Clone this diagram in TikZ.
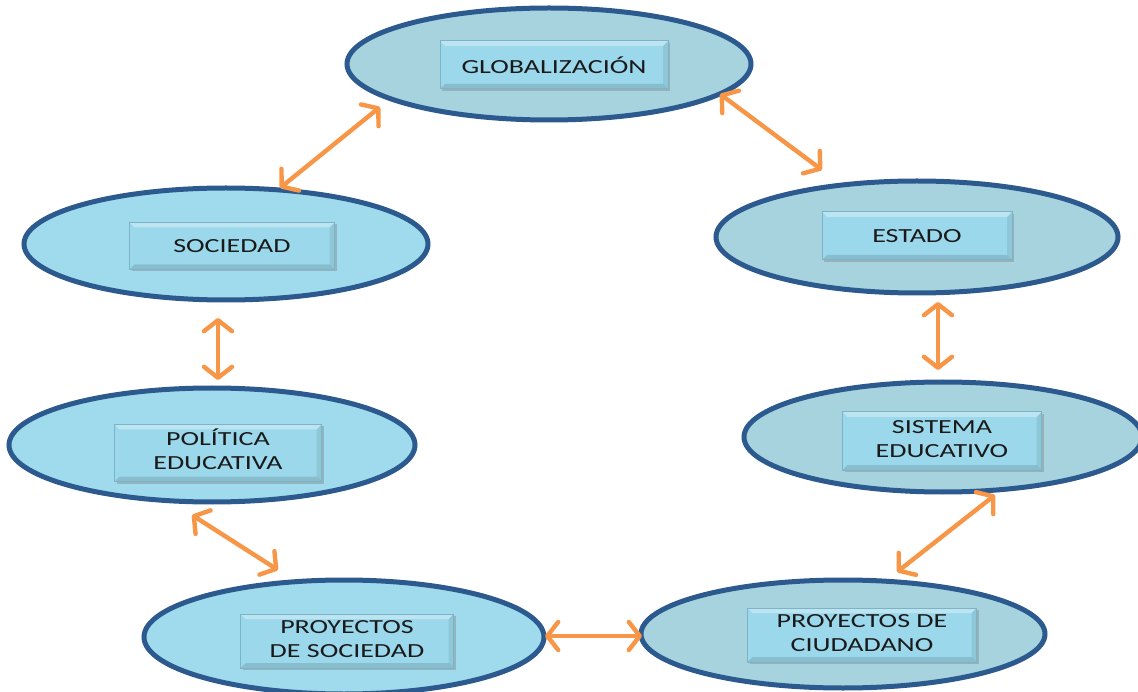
\documentclass[tikz,border=0pt]{standalone}
\usepackage{fontspec}
\setmainfont{Carlito}
\usetikzlibrary{shapes.geometric,arrows.meta,calc,shadows}
\definecolor{ringblue}{HTML}{2C5A8E}
\definecolor{paleA}{HTML}{A7D3DF}
\definecolor{paleB}{HTML}{9FDBEC}
\definecolor{boxfill}{HTML}{9BD8EB}
\definecolor{boxedge}{HTML}{7DB3C6}
\definecolor{arrorange}{HTML}{F79646}
\definecolor{inkgray}{HTML}{1A1A1A}
\tikzset{
  ring/.style={ellipse, draw=ringblue, line width=5pt, inner sep=0pt,
    minimum width=#1, fill=paleA,
    drop shadow={shadow xshift=1.5pt, shadow yshift=-2pt, opacity=.35}},
  ringbright/.style={ring=#1, fill=paleB},
  label box/.style={rectangle, fill=boxfill, draw=boxedge, line width=1pt,
    inner sep=0pt, text=inkgray,
    font=\fontsize{20}{24}\selectfont,
    drop shadow={shadow xshift=2pt, shadow yshift=-2pt, opacity=.4},
    path picture={
      \fill[white, opacity=.35]
        (path picture bounding box.north west) --
        (path picture bounding box.north east) --
        ([xshift=-5pt,yshift=-5pt]path picture bounding box.north east) --
        ([xshift=5pt,yshift=-5pt]path picture bounding box.north west) -- cycle;
      \fill[black, opacity=.12]
        (path picture bounding box.south west) --
        (path picture bounding box.south east) --
        ([xshift=-5pt,yshift=5pt]path picture bounding box.south east) --
        ([xshift=5pt,yshift=5pt]path picture bounding box.south west) -- cycle;
      \fill[black, opacity=.08]
        (path picture bounding box.north east) --
        (path picture bounding box.south east) --
        ([xshift=-5pt,yshift=5pt]path picture bounding box.south east) --
        ([xshift=-5pt,yshift=-5pt]path picture bounding box.north east) -- cycle;
    }},
  link/.style={draw=arrorange, line width=4.4pt,
    {Straight Barb[length=11pt,width=28pt,round]}-{Straight Barb[length=11pt,width=28pt,round]}}
}
\newcommand{\wide}[1]{\scalebox{1.4}[1]{#1}}
\newcommand{\twolines}[2]{\scalebox{1.4}[1]{\begin{tabular}{@{}c@{}}#1\\#2\end{tabular}}}

\begin{document}
\begin{tikzpicture}[x=1pt, y=-1pt]
\useasboundingbox (0,0) rectangle (1138,692);

% outer ellipses
\node[ring=404pt, minimum height=112pt]       (glob) at (549,64)  {};
\node[ringbright=404pt, minimum height=112pt] (soc)  at (226,244) {};
\node[ring=402pt, minimum height=112pt]       (est)  at (917,237) {};
\node[ringbright=406pt, minimum height=114pt] (pol)  at (212,445) {};
\node[ring=398pt, minimum height=110pt]       (sis)  at (943,437) {};
\node[ringbright=400pt, minimum height=114pt] (psoc) at (344,637) {};
\node[ring=404pt, minimum height=108pt]       (pciu) at (843,634) {};

% labelled boxes inside the ellipses
\node[label box, minimum width=228pt, minimum height=48pt] (globt) at (554,65)  {\wide{GLOBALIZACIÓN}};
\node[label box, minimum width=205pt, minimum height=47pt] (soct)  at (232,246) {\wide{SOCIEDAD}};
\node[label box, minimum width=190pt, minimum height=48pt] (estt)  at (917,236) {\wide{ESTADO}};
\node[label box, minimum width=207pt, minimum height=57pt] (polt)  at (218,453) {\twolines{POLÍTICA}{EDUCATIVA}};
\node[label box, minimum width=199pt, minimum height=58pt] (sist)  at (942,441) {\twolines{SISTEMA}{EDUCATIVO}};
\node[label box, minimum width=213pt, minimum height=54pt] (psoct) at (347,641) {\twolines{PROYECTOS}{DE SOCIEDAD}};
\node[label box, minimum width=229pt, minimum height=54pt] (pciut) at (862,635) {\twolines{PROYECTOS DE}{CIUDADANO}};

% two-headed links between neighbouring ellipses
\draw[link] ($(glob.center)+(-169,43)$) -- ($(soc.center)+(54,-56)$);
\draw[link] ($(glob.center)+(171,30)$)  -- ($(est.center)+(-95,-67)$);
\draw[link] ($(soc.center)+(-8,74)$)    -- ($(pol.center)+(6,-65)$);
\draw[link] ($(est.center)+(21,65)$)    -- ($(sis.center)+(-5,-67)$);
\draw[link] ($(pol.center)+(-20,70)$)   -- ($(psoc.center)+(-66,-67)$);
\draw[link] ($(psoc.center)+(201,-1)$)  -- ($(pciu.center)+(-201,2)$);
\draw[link] ($(sis.center)+(52,58)$)    -- ($(pciu.center)+(54,-62)$);
\end{tikzpicture}
\end{document}
